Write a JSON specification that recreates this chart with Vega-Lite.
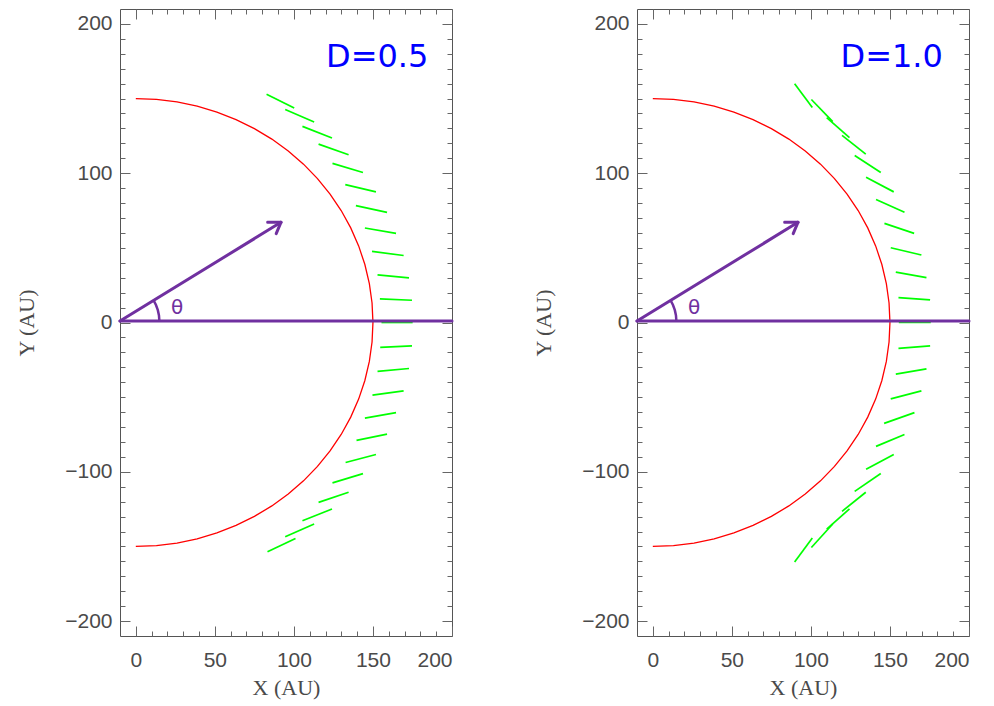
{
  "$schema": "https://vega.github.io/schema/vega-lite/v6.json",
  "background": "white",
  "padding": {"left": 15, "top": 8, "right": 4, "bottom": 4},
  "spacing": 78,
  "config": {
    "view": {"stroke": "#555", "strokeWidth": 1},
    "axis": {"grid": false, "domain": false, "tickColor": "#666", "tickWidth": 1,
      "labelFont": "Liberation Sans", "labelFontSize": 21, "labelColor": "#4a4a4a",
      "titleFont": "Liberation Serif", "titleFontSize": 22, "titleFontWeight": "normal", "titleColor": "#4a4a4a"}
  },
  "datasets": {
    "circle": [
      {"o": 0, "x": 0, "y": -150}, {"o": 1, "x": 13.07, "y": -149.43}, {"o": 2, "x": 26.05, "y": -147.72},
      {"o": 3, "x": 38.82, "y": -144.89}, {"o": 4, "x": 51.3, "y": -140.95}, {"o": 5, "x": 63.39, "y": -135.95},
      {"o": 6, "x": 75, "y": -129.9}, {"o": 7, "x": 86.04, "y": -122.87}, {"o": 8, "x": 96.42, "y": -114.91},
      {"o": 9, "x": 106.07, "y": -106.07}, {"o": 10, "x": 114.91, "y": -96.42}, {"o": 11, "x": 122.87, "y": -86.04},
      {"o": 12, "x": 129.9, "y": -75}, {"o": 13, "x": 135.95, "y": -63.39}, {"o": 14, "x": 140.95, "y": -51.3},
      {"o": 15, "x": 144.89, "y": -38.82}, {"o": 16, "x": 147.72, "y": -26.05}, {"o": 17, "x": 149.43, "y": -13.07},
      {"o": 18, "x": 150, "y": 0}, {"o": 19, "x": 149.43, "y": 13.07}, {"o": 20, "x": 147.72, "y": 26.05},
      {"o": 21, "x": 144.89, "y": 38.82}, {"o": 22, "x": 140.95, "y": 51.3}, {"o": 23, "x": 135.95, "y": 63.39},
      {"o": 24, "x": 129.9, "y": 75}, {"o": 25, "x": 122.87, "y": 86.04}, {"o": 26, "x": 114.91, "y": 96.42},
      {"o": 27, "x": 106.07, "y": 106.07}, {"o": 28, "x": 96.42, "y": 114.91}, {"o": 29, "x": 86.04, "y": 122.87},
      {"o": 30, "x": 75, "y": 129.9}, {"o": 31, "x": 63.39, "y": 135.95}, {"o": 32, "x": 51.3, "y": 140.95},
      {"o": 33, "x": 38.82, "y": 144.89}, {"o": 34, "x": 26.05, "y": 147.72}, {"o": 35, "x": 13.07, "y": 149.43},
      {"o": 36, "x": 0, "y": 150}
    ],
    "purple": [
      {"x": -10, "y": 1, "x2": 200, "y2": 1},
      {"x": -10, "y": 1, "x2": 91.8, "y2": 67.1},
      {"x": 83.4, "y": 67.2, "x2": 91.8, "y2": 67.1},
      {"x": 88.8, "y": 59.5, "x2": 91.8, "y2": 67.1}
    ],
    "arc": [
      {"o": 0, "x": 14.9, "y": 1}, {"o": 1, "x": 14.65, "y": 4.67}, {"o": 2, "x": 13.93, "y": 8.29},
      {"o": 3, "x": 12.76, "y": 11.74}, {"o": 4, "x": 11.34, "y": 14.6}
    ],
    "g05": [
      {"x": 82.7, "y": 152.9, "x2": 100.2, "y2": 143.7},
      {"x": 94.5, "y": 142.7, "x2": 112.8, "y2": 134.3},
      {"x": 105.4, "y": 131.4, "x2": 124.1, "y2": 123.6},
      {"x": 115.6, "y": 119.5, "x2": 134.6, "y2": 112.4},
      {"x": 124.4, "y": 106.6, "x2": 143.7, "y2": 100.5},
      {"x": 132.5, "y": 92.4, "x2": 151.9, "y2": 87.5},
      {"x": 139.2, "y": 78.3, "x2": 158.9, "y2": 73.8},
      {"x": 144.9, "y": 63.3, "x2": 164.6, "y2": 59.7},
      {"x": 149.4, "y": 47.6, "x2": 169.4, "y2": 44.9},
      {"x": 152.9, "y": 31.9, "x2": 172.8, "y2": 29.9},
      {"x": 154.4, "y": 15.8, "x2": 174.7, "y2": 14.9},
      {"x": 155.4, "y": 0, "x2": 175.1, "y2": 0},
      {"x": 154.6, "y": -16.7, "x2": 174.7, "y2": -15.6},
      {"x": 152.9, "y": -32.8, "x2": 172.8, "y2": -30.8},
      {"x": 149.7, "y": -48.7, "x2": 169.4, "y2": -45.8},
      {"x": 144.9, "y": -64.0, "x2": 164.6, "y2": -60.4},
      {"x": 139.6, "y": -79.0, "x2": 158.9, "y2": -74.8},
      {"x": 132.7, "y": -93.8, "x2": 151.9, "y2": -88.4},
      {"x": 124.4, "y": -107.4, "x2": 143.7, "y2": -101.2},
      {"x": 115.6, "y": -120.5, "x2": 134.6, "y2": -113.7},
      {"x": 105.4, "y": -132.8, "x2": 124.1, "y2": -124.9},
      {"x": 94.5, "y": -143.5, "x2": 112.8, "y2": -135.0},
      {"x": 83.3, "y": -153.6, "x2": 101.0, "y2": -144.7}
    ],
    "g10": [
      {"x": 89.7, "y": 159.9, "x2": 100.9, "y2": 144.0},
      {"x": 100.3, "y": 149.4, "x2": 113.8, "y2": 134.6},
      {"x": 110.0, "y": 137.3, "x2": 124.4, "y2": 123.8},
      {"x": 119.7, "y": 125.4, "x2": 134.7, "y2": 112.8},
      {"x": 127.7, "y": 111.9, "x2": 144.2, "y2": 100.5},
      {"x": 134.9, "y": 97.3, "x2": 152.4, "y2": 87.5},
      {"x": 141.2, "y": 82.4, "x2": 159.2, "y2": 73.8},
      {"x": 146.5, "y": 66.4, "x2": 165.3, "y2": 59.7},
      {"x": 150.5, "y": 50.1, "x2": 169.9, "y2": 45.2},
      {"x": 153.7, "y": 33.7, "x2": 173.1, "y2": 30.1},
      {"x": 155.4, "y": 16.7, "x2": 175.4, "y2": 15.1},
      {"x": 155.6, "y": 0, "x2": 175.8, "y2": 0},
      {"x": 155.4, "y": -17.3, "x2": 175.4, "y2": -15.6},
      {"x": 153.7, "y": -34.6, "x2": 173.1, "y2": -31.1},
      {"x": 150.5, "y": -51.2, "x2": 169.9, "y2": -45.8},
      {"x": 146.3, "y": -67.6, "x2": 165.5, "y2": -60.4},
      {"x": 141.2, "y": -83.0, "x2": 159.2, "y2": -75.0},
      {"x": 134.9, "y": -98.3, "x2": 152.4, "y2": -88.4},
      {"x": 127.7, "y": -113.1, "x2": 144.2, "y2": -101.2},
      {"x": 119.7, "y": -126.5, "x2": 134.7, "y2": -113.7},
      {"x": 110.0, "y": -138.4, "x2": 124.4, "y2": -124.9},
      {"x": 100.3, "y": -150.7, "x2": 113.8, "y2": -135.0},
      {"x": 89.7, "y": -160.5, "x2": 100.9, "y2": -144.4}
    ]
  },
  "hconcat": [
    {
      "width": 332, "height": 627,
      "resolve": {"axis": {"x": "independent", "y": "independent"}},
      "layer": [
        {
          "data": {"name": "g05"},
          "mark": {"type": "rule", "color": "#00FF00", "strokeWidth": 1.7},
          "encoding": {
            "x": {"field": "x", "type": "quantitative", "scale": {"domain": [-10, 200], "nice": false, "zero": false},
              "axis": {"orient": "bottom", "values": [0, 50, 100, 150, 200], "tickSize": -10, "labelPadding": 23, "title": "X (AU)", "titlePadding": 7}},
            "y": {"field": "y", "type": "quantitative", "scale": {"domain": [-210, 210], "nice": false, "zero": false},
              "axis": {"orient": "left", "values": [-200, -100, 0, 100, 200], "tickSize": -10, "labelPadding": 18, "title": "Y (AU)", "titlePadding": 26}},
            "x2": {"field": "x2"}, "y2": {"field": "y2"}
          }
        },
        {
          "data": {"name": "circle"},
          "mark": {"type": "line", "color": "#FF0000", "strokeWidth": 1.3},
          "encoding": {
            "x": {"field": "x", "type": "quantitative", "scale": {"domain": [-10, 200], "nice": false, "zero": false},
              "axis": {"orient": "bottom", "values": [10, 20, 30, 40, 60, 70, 80, 90, 110, 120, 130, 140, 160, 170, 180, 190], "tickSize": -5, "labels": false, "title": null}},
            "y": {"field": "y", "type": "quantitative", "scale": {"domain": [-210, 210], "nice": false, "zero": false},
              "axis": {"orient": "left", "values": [-190, -180, -170, -160, -150, -140, -130, -120, -110, -90, -80, -70, -60, -50, -40, -30, -20, -10, 10, 20, 30, 40, 50, 60, 70, 80, 90, 110, 120, 130, 140, 150, 160, 170, 180, 190], "tickSize": -5, "labels": false, "title": null}},
            "order": {"field": "o", "type": "quantitative"}
          }
        },
        {
          "data": {"name": "purple"},
          "mark": {"type": "rule", "color": "#7030A0", "strokeWidth": 3, "strokeCap": "round"},
          "encoding": {
            "x": {"field": "x", "type": "quantitative", "scale": {"domain": [-10, 200], "nice": false, "zero": false},
              "axis": {"orient": "top", "values": [0, 50, 100, 150, 200], "tickSize": -10, "labels": false, "title": null}},
            "y": {"field": "y", "type": "quantitative", "scale": {"domain": [-210, 210], "nice": false, "zero": false},
              "axis": {"orient": "right", "values": [-200, -100, 0, 100, 200], "tickSize": -10, "labels": false, "title": null}},
            "x2": {"field": "x2"}, "y2": {"field": "y2"}
          }
        },
        {
          "data": {"name": "arc"},
          "mark": {"type": "line", "color": "#7030A0", "strokeWidth": 2.5},
          "encoding": {
            "x": {"field": "x", "type": "quantitative", "scale": {"domain": [-10, 200], "nice": false, "zero": false},
              "axis": {"orient": "top", "values": [10, 20, 30, 40, 60, 70, 80, 90, 110, 120, 130, 140, 160, 170, 180, 190], "tickSize": -5, "labels": false, "title": null}},
            "y": {"field": "y", "type": "quantitative", "scale": {"domain": [-210, 210], "nice": false, "zero": false},
              "axis": {"orient": "right", "values": [-190, -180, -170, -160, -150, -140, -130, -120, -110, -90, -80, -70, -60, -50, -40, -30, -20, -10, 10, 20, 30, 40, 50, 60, 70, 80, 90, 110, 120, 130, 140, 150, 160, 170, 180, 190], "tickSize": -5, "labels": false, "title": null}},
            "order": {"field": "o", "type": "quantitative"}
          }
        },
        {
          "data": {"values": [{"x": 26.1, "y": 9.7, "t": "θ"}]},
          "mark": {"type": "text", "color": "#7030A0", "fontSize": 20, "font": "DejaVu Sans"},
          "encoding": {
            "x": {"field": "x", "type": "quantitative", "scale": {"domain": [-10, 200], "nice": false, "zero": false}, "axis": null},
            "y": {"field": "y", "type": "quantitative", "scale": {"domain": [-210, 210], "nice": false, "zero": false}, "axis": null},
            "text": {"field": "t"}
          }
        },
        {
          "data": {"values": [{"x": 152.7, "y": 177.8, "t": "D=0.5"}]},
          "mark": {"type": "text", "color": "#0000FF", "fontSize": 32, "font": "DejaVu Sans"},
          "encoding": {
            "x": {"field": "x", "type": "quantitative", "scale": {"domain": [-10, 200], "nice": false, "zero": false}, "axis": null},
            "y": {"field": "y", "type": "quantitative", "scale": {"domain": [-210, 210], "nice": false, "zero": false}, "axis": null},
            "text": {"field": "t"}
          }
        }
      ]
    },
    {
      "width": 332, "height": 627,
      "resolve": {"axis": {"x": "independent", "y": "independent"}},
      "layer": [
        {
          "data": {"name": "g10"},
          "mark": {"type": "rule", "color": "#00FF00", "strokeWidth": 1.7},
          "encoding": {
            "x": {"field": "x", "type": "quantitative", "scale": {"domain": [-10, 200], "nice": false, "zero": false},
              "axis": {"orient": "bottom", "values": [0, 50, 100, 150, 200], "tickSize": -10, "labelPadding": 23, "title": "X (AU)", "titlePadding": 7}},
            "y": {"field": "y", "type": "quantitative", "scale": {"domain": [-210, 210], "nice": false, "zero": false},
              "axis": {"orient": "left", "values": [-200, -100, 0, 100, 200], "tickSize": -10, "labelPadding": 18, "title": "Y (AU)", "titlePadding": 26}},
            "x2": {"field": "x2"}, "y2": {"field": "y2"}
          }
        },
        {
          "data": {"name": "circle"},
          "mark": {"type": "line", "color": "#FF0000", "strokeWidth": 1.3},
          "encoding": {
            "x": {"field": "x", "type": "quantitative", "scale": {"domain": [-10, 200], "nice": false, "zero": false},
              "axis": {"orient": "bottom", "values": [10, 20, 30, 40, 60, 70, 80, 90, 110, 120, 130, 140, 160, 170, 180, 190], "tickSize": -5, "labels": false, "title": null}},
            "y": {"field": "y", "type": "quantitative", "scale": {"domain": [-210, 210], "nice": false, "zero": false},
              "axis": {"orient": "left", "values": [-190, -180, -170, -160, -150, -140, -130, -120, -110, -90, -80, -70, -60, -50, -40, -30, -20, -10, 10, 20, 30, 40, 50, 60, 70, 80, 90, 110, 120, 130, 140, 150, 160, 170, 180, 190], "tickSize": -5, "labels": false, "title": null}},
            "order": {"field": "o", "type": "quantitative"}
          }
        },
        {
          "data": {"name": "purple"},
          "mark": {"type": "rule", "color": "#7030A0", "strokeWidth": 3, "strokeCap": "round"},
          "encoding": {
            "x": {"field": "x", "type": "quantitative", "scale": {"domain": [-10, 200], "nice": false, "zero": false},
              "axis": {"orient": "top", "values": [0, 50, 100, 150, 200], "tickSize": -10, "labels": false, "title": null}},
            "y": {"field": "y", "type": "quantitative", "scale": {"domain": [-210, 210], "nice": false, "zero": false},
              "axis": {"orient": "right", "values": [-200, -100, 0, 100, 200], "tickSize": -10, "labels": false, "title": null}},
            "x2": {"field": "x2"}, "y2": {"field": "y2"}
          }
        },
        {
          "data": {"name": "arc"},
          "mark": {"type": "line", "color": "#7030A0", "strokeWidth": 2.5},
          "encoding": {
            "x": {"field": "x", "type": "quantitative", "scale": {"domain": [-10, 200], "nice": false, "zero": false},
              "axis": {"orient": "top", "values": [10, 20, 30, 40, 60, 70, 80, 90, 110, 120, 130, 140, 160, 170, 180, 190], "tickSize": -5, "labels": false, "title": null}},
            "y": {"field": "y", "type": "quantitative", "scale": {"domain": [-210, 210], "nice": false, "zero": false},
              "axis": {"orient": "right", "values": [-190, -180, -170, -160, -150, -140, -130, -120, -110, -90, -80, -70, -60, -50, -40, -30, -20, -10, 10, 20, 30, 40, 50, 60, 70, 80, 90, 110, 120, 130, 140, 150, 160, 170, 180, 190], "tickSize": -5, "labels": false, "title": null}},
            "order": {"field": "o", "type": "quantitative"}
          }
        },
        {
          "data": {"values": [{"x": 26.1, "y": 9.7, "t": "θ"}]},
          "mark": {"type": "text", "color": "#7030A0", "fontSize": 20, "font": "DejaVu Sans"},
          "encoding": {
            "x": {"field": "x", "type": "quantitative", "scale": {"domain": [-10, 200], "nice": false, "zero": false}, "axis": null},
            "y": {"field": "y", "type": "quantitative", "scale": {"domain": [-210, 210], "nice": false, "zero": false}, "axis": null},
            "text": {"field": "t"}
          }
        },
        {
          "data": {"values": [{"x": 151.1, "y": 177.8, "t": "D=1.0"}]},
          "mark": {"type": "text", "color": "#0000FF", "fontSize": 32, "font": "DejaVu Sans"},
          "encoding": {
            "x": {"field": "x", "type": "quantitative", "scale": {"domain": [-10, 200], "nice": false, "zero": false}, "axis": null},
            "y": {"field": "y", "type": "quantitative", "scale": {"domain": [-210, 210], "nice": false, "zero": false}, "axis": null},
            "text": {"field": "t"}
          }
        }
      ]
    }
  ]
}
